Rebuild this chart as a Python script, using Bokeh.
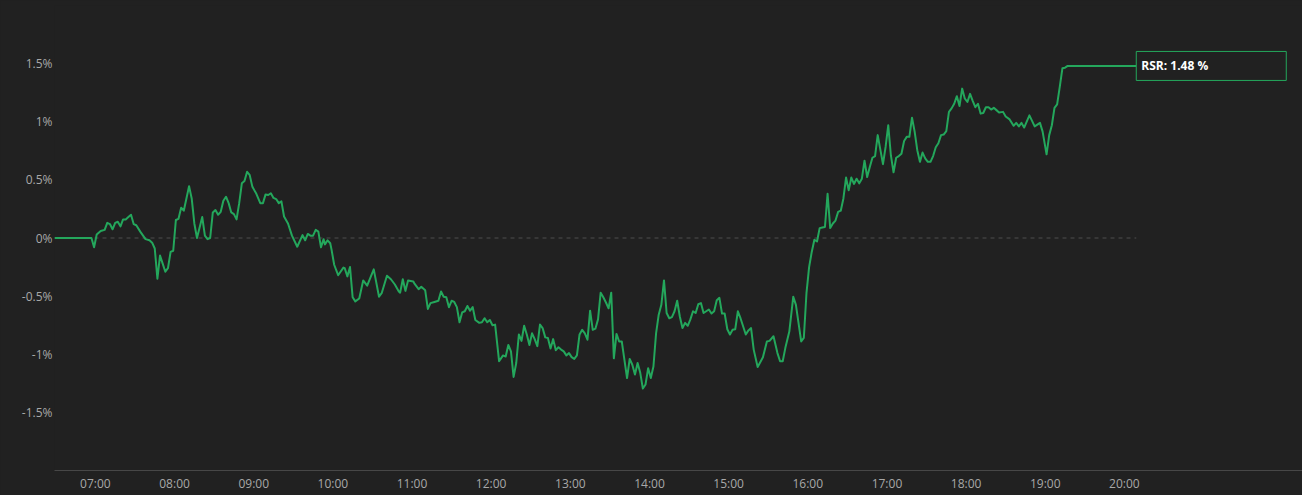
import pandas as pd
from bokeh.plotting import figure
from bokeh.models import Range1d, FixedTicker, DatetimeTickFormatter, CustomJSTickFormatter
from bokeh.core.properties import value
from bokeh.embed import file_html
from bokeh.resources import INLINE

# ---------------- data ----------------
series_name = "RSR"
day = "2024-01-02"
times = [
    "06:29", "06:57", "06:59", "07:01", "07:04", "07:07", "07:09", "07:11", "07:13", "07:15",
    "07:17", "07:19", "07:21", "07:23", "07:25", "07:27", "07:29", "07:31", "07:34", "07:38",
    "07:41", "07:43", "07:45", "07:47", "07:49", "07:51", "07:53", "07:55", "07:57", "07:59",
    "08:01", "08:03", "08:05", "08:07", "08:11", "08:13", "08:15", "08:17", "08:21", "08:23",
    "08:25", "08:27", "08:29", "08:31", "08:33", "08:35", "08:37", "08:39", "08:41", "08:43",
    "08:45", "08:47", "08:49", "08:51", "08:53", "08:55", "08:57", "08:59", "09:02", "09:05",
    "09:07", "09:09", "09:11", "09:13", "09:15", "09:17", "09:19", "09:21", "09:23", "09:26",
    "09:29", "09:33", "09:37", "09:39", "09:41", "09:43", "09:45", "09:47", "09:49", "09:51",
    "09:53", "09:54", "09:56", "09:58", "09:59", "10:01", "10:04", "10:08", "10:09", "10:11",
    "10:13", "10:15", "10:17", "10:20", "10:23", "10:26", "10:31", "10:35", "10:37", "10:41",
    "10:44", "10:47", "10:50", "10:51", "10:53", "10:55", "10:57", "11:01", "11:02", "11:05",
    "11:07", "11:10", "11:12", "11:14", "11:17", "11:20", "11:22", "11:24", "11:26", "11:28",
    "11:30", "11:32", "11:34", "11:36", "11:38", "11:40", "11:42", "11:44", "11:46", "11:48",
    "11:51", "11:53", "11:55", "11:57", "11:59", "12:01", "12:03", "12:06", "12:09", "12:11",
    "12:13", "12:15", "12:17", "12:19", "12:21", "12:23", "12:25", "12:27", "12:29", "12:31",
    "12:33", "12:35", "12:37", "12:39", "12:41", "12:43", "12:45", "12:47", "12:49", "12:51",
    "12:53", "12:55", "12:57", "12:59", "13:01", "13:03", "13:05", "13:07", "13:09", "13:11",
    "13:13", "13:15", "13:17", "13:19", "13:21", "13:23", "13:25", "13:27", "13:29", "13:31",
    "13:33", "13:35", "13:37", "13:39", "13:43", "13:45", "13:47", "13:49", "13:51", "13:53",
    "13:55", "13:57", "13:59", "14:01", "14:03", "14:05", "14:07", "14:09", "14:11", "14:13",
    "14:15", "14:17", "14:19", "14:21", "14:23", "14:25", "14:27", "14:29", "14:31", "14:33",
    "14:35", "14:37", "14:39", "14:41", "14:45", "14:47", "14:49", "14:51", "14:53", "14:55",
    "14:57", "14:59", "15:01", "15:03", "15:05", "15:07", "15:09", "15:13", "15:15", "15:17",
    "15:19", "15:22", "15:26", "15:29", "15:31", "15:34", "15:37", "15:39", "15:41", "15:43",
    "15:46", "15:49", "15:51", "15:55", "15:57", "15:59", "16:01", "16:03", "16:05", "16:07",
    "16:09", "16:11", "16:13", "16:15", "16:17", "16:19", "16:21", "16:23", "16:25", "16:27",
    "16:29", "16:31", "16:33", "16:35", "16:37", "16:39", "16:41", "16:43", "16:45", "16:47",
    "16:49", "16:51", "16:53", "16:55", "16:57", "16:59", "17:01", "17:03", "17:05", "17:07",
    "17:09", "17:11", "17:13", "17:15", "17:17", "17:19", "17:21", "17:23", "17:25", "17:27",
    "17:29", "17:31", "17:33", "17:35", "17:37", "17:39", "17:41", "17:43", "17:45", "17:47",
    "17:49", "17:51", "17:53", "17:55", "17:57", "17:59", "18:01", "18:03", "18:05", "18:07",
    "18:09", "18:11", "18:13", "18:15", "18:17", "18:19", "18:21", "18:23", "18:25", "18:28",
    "18:30", "18:33", "18:36", "18:38", "18:40", "18:42", "18:44", "18:48", "18:52", "18:56",
    "18:58", "19:01", "19:03", "19:05", "19:07", "19:09", "19:11", "19:13", "19:15", "19:17",
    "20:09",
]
rsr_pct = [
    0.0, 0.0, -0.08, 0.03, 0.06, 0.07, 0.13, 0.12, 0.075, 0.13,
    0.14, 0.10, 0.16, 0.16, 0.18, 0.20, 0.12, 0.11, 0.055, -0.01,
    -0.02, -0.04, -0.09, -0.35, -0.15, -0.22, -0.29, -0.26, -0.12, -0.11,
    0.155, 0.165, 0.26, 0.235, 0.445, 0.34, 0.125, 0.0, 0.18, 0.02,
    -0.01, 0.0, 0.22, 0.24, 0.20, 0.225, 0.32, 0.355, 0.30, 0.22,
    0.205, 0.16, 0.30, 0.47, 0.49, 0.57, 0.54, 0.44, 0.38, 0.30,
    0.30, 0.375, 0.37, 0.385, 0.345, 0.335, 0.30, 0.315, 0.185, 0.125,
    0.02, -0.075, 0.025, -0.02, 0.035, 0.02, 0.02, 0.07, 0.055, -0.08,
    -0.01, -0.055, -0.02, -0.045, -0.10, -0.23, -0.32, -0.255, -0.26, -0.33,
    -0.25, -0.51, -0.545, -0.52, -0.365, -0.41, -0.27, -0.505, -0.475, -0.325,
    -0.355, -0.40, -0.46, -0.47, -0.355, -0.455, -0.365, -0.375, -0.395, -0.44,
    -0.42, -0.45, -0.61, -0.56, -0.55, -0.54, -0.46, -0.505, -0.51, -0.595,
    -0.54, -0.55, -0.595, -0.725, -0.64, -0.63, -0.585, -0.625, -0.595, -0.705,
    -0.73, -0.725, -0.69, -0.725, -0.705, -0.75, -0.745, -1.06, -1.01, -1.02,
    -0.92, -0.975, -1.195, -1.075, -0.83, -0.885, -0.755, -0.83, -0.92, -0.82,
    -0.87, -0.93, -0.745, -0.775, -0.855, -0.86, -0.95, -0.87, -0.965, -0.94,
    -0.96, -0.975, -1.01, -0.99, -1.025, -1.04, -1.01, -0.83, -0.79, -0.82,
    -0.875, -0.625, -0.79, -0.78, -0.70, -0.47, -0.51, -0.555, -0.605, -0.47,
    -1.035, -0.825, -0.89, -0.89, -1.205, -1.04, -1.09, -1.175, -1.075, -1.16,
    -1.295, -1.26, -1.12, -1.205, -1.105, -0.82, -0.66, -0.575, -0.365, -0.645,
    -0.69, -0.68, -0.63, -0.54, -0.675, -0.775, -0.73, -0.755, -0.70, -0.63,
    -0.645, -0.57, -0.56, -0.645, -0.615, -0.65, -0.63, -0.535, -0.515, -0.65,
    -0.65, -0.785, -0.83, -0.79, -0.785, -0.63, -0.69, -0.83, -0.795, -0.775,
    -0.96, -1.11, -1.025, -0.89, -0.885, -0.845, -0.99, -1.06, -1.06, -0.945,
    -0.805, -0.505, -0.575, -0.89, -0.86, -0.475, -0.25, -0.12, -0.015, -0.03,
    0.085, 0.09, 0.095, 0.38, 0.085, 0.125, 0.15, 0.225, 0.235, 0.34,
    0.52, 0.41, 0.52, 0.465, 0.51, 0.47, 0.51, 0.665, 0.525, 0.61,
    0.69, 0.705, 0.885, 0.76, 0.635, 0.785, 0.97, 0.71, 0.565, 0.69,
    0.705, 0.725, 0.835, 0.87, 0.87, 1.035, 0.915, 0.755, 0.655, 0.735,
    0.685, 0.655, 0.655, 0.705, 0.78, 0.815, 0.885, 0.89, 0.92, 1.085,
    1.115, 1.155, 1.22, 1.135, 1.285, 1.20, 1.17, 1.24, 1.18, 1.125,
    1.155, 1.07, 1.075, 1.125, 1.125, 1.105, 1.12, 1.10, 1.08, 1.085,
    1.045, 1.02, 0.965, 0.99, 0.96, 0.99, 0.95, 1.055, 0.96, 0.99,
    0.915, 0.72, 0.885, 0.97, 1.12, 1.15, 1.30, 1.46, 1.465, 1.48,
    1.48,
]
x_tick_labels = ["07:00", "08:00", "09:00", "10:00", "11:00", "12:00", "13:00",
                 "14:00", "15:00", "16:00", "17:00", "18:00", "19:00", "20:00"]
y_tick_values = [-1.5, -1.0, -0.5, 0.0, 0.5, 1.0, 1.5]
x_axis_end = "22:15"
y_axis_range = (-2.0, 2.0)

# ---------------- style ----------------
BG = "#212121"
GREEN = "#24a75c"
W, H = 1302, 495
LEFT, RIGHT, TOP, BOTTOM = 54, 0, 5, 25

t = pd.to_datetime([f"{day} {s}" for s in times])
epoch = pd.Timestamp("1970-01-01")
to_ms = lambda ts: (ts - epoch).total_seconds() * 1000.0
x_start = t[0]
x_end = pd.Timestamp(f"{day} {x_axis_end}")

p = figure(width=W, height=H, x_axis_type="datetime",
           x_range=Range1d(start=x_start, end=x_end),
           y_range=Range1d(start=y_axis_range[0], end=y_axis_range[1]),
           output_backend="svg", toolbar_location=None,
           min_border_left=LEFT, min_border_right=RIGHT,
           min_border_top=TOP, min_border_bottom=BOTTOM,
           background_fill_color=BG, border_fill_color=BG,
           outline_line_color=None)

p.xgrid.visible = False
p.ygrid.visible = False

# x axis
p.xaxis.ticker = FixedTicker(ticks=[to_ms(pd.Timestamp(f"{day} {s}")) for s in x_tick_labels],
                             minor_ticks=[])
p.xaxis.formatter = DatetimeTickFormatter(minutes="%H:%M", hourmin="%H:%M",
                                          hours="%H:%M", days="%H:%M")
p.xaxis.axis_line_color = "#474747"
p.xaxis.axis_line_width = 1
p.xaxis.major_tick_line_color = None
p.xaxis.minor_tick_line_color = None
p.xaxis.major_tick_out = 0
p.xaxis.major_tick_in = 0
p.xaxis.minor_tick_out = 0
p.xaxis.major_label_standoff = 4
p.xaxis.major_label_text_color = "#a8a8a8"
p.xaxis.major_label_text_font = "Open Sans"
p.xaxis.major_label_text_font_size = "12px"

# y axis
p.yaxis.ticker = FixedTicker(ticks=y_tick_values, minor_ticks=[])
p.yaxis.formatter = CustomJSTickFormatter(code="return tick + '%';")
p.yaxis.axis_line_color = None
p.yaxis.major_tick_line_color = None
p.yaxis.minor_tick_line_color = None
p.yaxis.major_tick_out = 0
p.yaxis.major_tick_in = 0
p.yaxis.minor_tick_out = 0
p.yaxis.major_label_standoff = 2
p.yaxis.major_label_text_color = "#a8a8a8"
p.yaxis.major_label_text_font = "Open Sans"
p.yaxis.major_label_text_font_size = "12px"

# zero reference line
p.line(x=[t[0], t[-1]], y=[0, 0], line_color="#4e4e4e", line_dash="4 4", line_width=1)

# series
p.line(x=t, y=rsr_pct, line_color=GREEN, line_width=2, line_join="round")

# end-value label box
frame_w = W - LEFT - RIGHT
frame_h = H - TOP - BOTTOM
ms_per_px = (to_ms(x_end) - to_ms(x_start)) / frame_w
pct_per_px = (y_axis_range[1] - y_axis_range[0]) / frame_h
last = rsr_pct[-1]
box_left = to_ms(t[-1])
box_right = box_left + 150 * ms_per_px
p.quad(left=[box_left], right=[box_right],
       top=[last + 14.5 * pct_per_px], bottom=[last - 14.5 * pct_per_px],
       fill_color=BG, line_color=GREEN, line_width=1)
p.text(x=[box_left], y=[last], text=[f"{series_name}: {last:.2f} %"],
       x_offset=5, text_align="left", text_baseline="middle",
       text_font=value("Open Sans"), text_font_size="12px",
       text_font_style="bold", text_color="#ffffff")

html = file_html(p, INLINE, title="RSR")
html = html.replace("</head>",
                    "<style>html,body{margin:0;padding:0;background:#212121;}</style></head>", 1)
open("out.html", "w").write(html)
